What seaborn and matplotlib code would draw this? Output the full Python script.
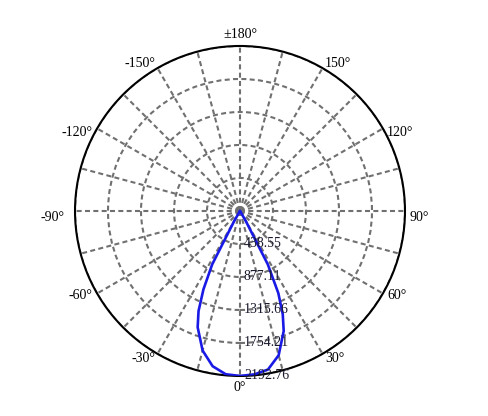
import numpy as np
import pandas as pd
import matplotlib
matplotlib.use("Agg")
import matplotlib.pyplot as plt
import seaborn as sns
from matplotlib.transforms import offset_copy

# luminous intensity curve (angle in degrees, value in cd)
angles_deg = [-32.5, -30, -27.5, -25, -22.5, -20, -15, -10, -5, 0,
              5, 10, 15, 20, 22.5, 25, 27.5, 30, 32.5]
intensity = [0, 150, 800, 1150, 1440, 1645, 1920, 2095, 2178, 2192.76,
             2180, 2140, 1985, 1698, 1485, 1205, 800, 150, 0]

ring_values = [438.55, 877.11, 1315.66, 1754.21, 2192.76]
ring_labels = ["438.55", "877.11", "1315.66", "1754.21", "2192.76"]

angle_ticks = [0, 30, 60, 90, 120, 150, 180, 210, 240, 270, 300, 330]
angle_labels = ["0°", "30°", "60°", "90°", "120°", "150°", "±180°",
                "-150°", "-120°", "-90°", "-60°", "-30°"]

sns.set_style("white")
plt.rcParams["font.family"] = ["Liberation Serif", "DejaVu Serif"]

df = pd.DataFrame({"theta": np.radians(angles_deg), "cd": intensity})

fig = plt.figure(figsize=(4.88, 4.16), dpi=100)
ax = fig.add_axes([0.1537, 0.0962, 0.6762, 0.7933], projection="polar")
ax.set_theta_zero_location("S")
ax.set_theta_direction(1)

sns.lineplot(data=df, x="theta", y="cd", ax=ax, color="#1a1ae6",
             linewidth=1.9, estimator=None, sort=False, zorder=5)

ax.set_ylim(0, ring_values[-1])
ax.set_xticks(np.radians(np.arange(0, 360, 15)))
ax.set_xticklabels([])
ax.set_yticks(ring_values)
ax.set_yticklabels([])
ax.tick_params(length=0)
ax.grid(True, color="#707070", linestyle=(0, (2.4, 1.6)), linewidth=1.5)
ax.spines["polar"].set_color("black")
ax.spines["polar"].set_linewidth(1.5)
ax.set_xlabel("")
ax.set_ylabel("")

# angle labels sit just outside the outer circle
rmax = ring_values[-1]
pad = 5
for a, lab in zip(angle_ticks, angle_labels):
    t = np.radians(a)
    dx = pad * np.sin(t)
    dy = -pad * np.cos(t)
    if a == 0:
        ha, va = "center", "top"
    elif a == 180:
        ha, va = "center", "bottom"
    elif a < 180:
        ha, va = "left", "center"
    else:
        ha, va = "right", "center"
    if a in (90, 120, 240, 270):
        dy -= 7
    if a == 270:
        dx -= 6
    tr = offset_copy(ax.transData, fig=fig, x=dx, y=dy, units="dots")
    ax.text(t, rmax, lab, ha=ha, va=va, fontsize=10,
            color="black", transform=tr, clip_on=False)

for r, lab in zip(ring_values, ring_labels):
    tr = offset_copy(ax.transData, fig=fig, x=4, y=0, units="dots")
    ax.text(0, r, lab, ha="left", va="center", fontsize=10,
            color="#1a1a2e", transform=tr, zorder=6)

fig.savefig("out.png", dpi=100)
